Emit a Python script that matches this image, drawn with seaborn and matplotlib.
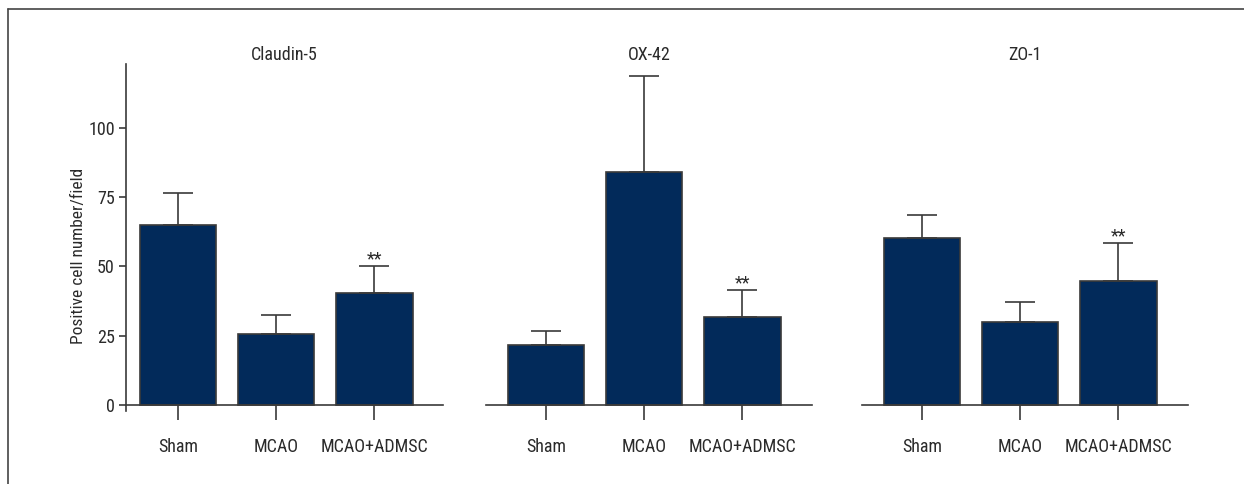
import numpy as np
import pandas as pd
import matplotlib
matplotlib.use("Agg")
import matplotlib.pyplot as plt
from matplotlib.lines import Line2D
import seaborn as sns

# Data
groups = ["Sham", "MCAO", "MCAO+ADMSC"]
panels = ["Claudin-5", "OX-42", "ZO-1"]
claudin_mean = [65.0, 25.5, 40.4]
claudin_err = [11.5, 7.0, 9.8]
ox42_mean = [21.7, 84.1, 31.8]
ox42_err = [5.0, 34.7, 9.7]
zo1_mean = [60.3, 30.0, 44.8]
zo1_err = [8.3, 7.2, 13.7]
stars = ["", "", "**"]

means = [claudin_mean, ox42_mean, zo1_mean]
errs = [claudin_err, ox42_err, zo1_err]

sns.set_style("ticks")
plt.rcParams['font.family'] = ['Roboto Condensed', 'Open Sans Condensed',
                               'Liberation Sans', 'DejaVu Sans']
plt.rcParams['font.stretch'] = 'condensed'

W, H = 1244, 484
fig = plt.figure(figsize=(W / 100, H / 100), dpi=100)

bar_color = "#022a5a"
line_color = "#3a3a3a"
text_color = "#2a2a2a"
fs = 13

extents = [(126, 443), (486, 812), (862, 1188)]
xlims = [(-0.53, 2.70), (-0.61, 2.71), (-0.61, 2.71)]
y_top, y_zero = 64, 405
ylim = (-2, 123)
px_per_unit = (y_zero - y_top) / (ylim[1] - 0)
y_bot = y_zero + 2 * px_per_unit

for i, (name, m, e) in enumerate(zip(panels, means, errs)):
    l, r = extents[i]
    ax = fig.add_axes([l / W, 1 - y_bot / H, (r - l) / W, (y_bot - y_top) / H])
    df = pd.DataFrame({"group": groups, "value": m})
    sns.barplot(data=df, x="group", y="value", ax=ax, color=bar_color,
                width=0.78, edgecolor=line_color, linewidth=1.2, saturation=1)
    ax.errorbar(range(3), m, yerr=[np.zeros(3), e], fmt="none",
                ecolor=line_color, elinewidth=1.2, capsize=11, capthick=1.2, zorder=1)
    for j, s in enumerate(stars):
        if s:
            ax.text(j, m[j] + e[j] - 0.8, s, ha="center", va="bottom",
                    fontsize=fs, color=text_color)
    ax.set_xlim(*xlims[i])
    ax.set_ylim(*ylim)
    ax.set_xlabel("")
    ax.set_ylabel("")
    ax.set_title(name, fontsize=fs, color=text_color, pad=3)
    ax.spines["top"].set_visible(False)
    ax.spines["right"].set_visible(False)
    ax.spines["bottom"].set_position(("data", 0))
    for sp in ("bottom", "left"):
        ax.spines[sp].set_color(line_color)
        ax.spines[sp].set_linewidth(1.2)
    ax.tick_params(axis="x", length=11, width=1.2, color=line_color,
                   labelsize=fs, labelcolor=text_color, pad=13)
    if i == 0:
        ax.set_yticks([0, 25, 50, 75, 100])
        ax.tick_params(axis="y", length=5, width=1.2, color=line_color,
                       labelsize=fs, labelcolor=text_color, pad=3)
        ax.set_ylabel("Positive cell number/field", fontsize=fs - 0.5,
                      color=text_color)
        ax.yaxis.set_label_coords(-40 / (r - l), (y_bot - 256) / (y_bot - y_top))
    else:
        ax.spines["left"].set_visible(False)
        ax.set_yticks([])

# frame lines at top and left
fig.add_artist(Line2D([8 / W, 1], [1 - 9 / H, 1 - 9 / H], color="#444444", lw=1.2))
fig.add_artist(Line2D([8 / W, 8 / W], [0, 1 - 9 / H], color="#444444", lw=1.2))

fig.savefig("out.png", dpi=100)
